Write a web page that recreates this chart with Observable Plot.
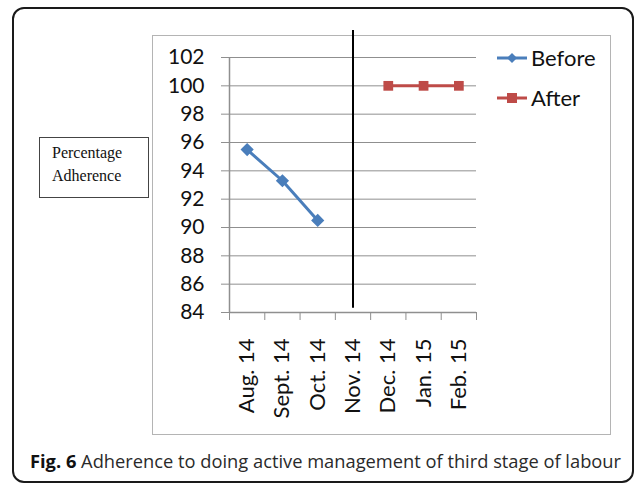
<!DOCTYPE html>
<html><head><meta charset="utf-8">
<script src="https://cdn.jsdelivr.net/npm/d3@7"></script>
<script src="https://cdn.jsdelivr.net/npm/@observablehq/plot@0.6"></script>
<style>
body{margin:0;background:#fff;}
#wrap{position:relative;width:636px;height:485px;overflow:hidden;font-family:Lato,sans-serif;}
#outer{position:absolute;left:12px;top:7px;width:622px;height:476px;border:2px solid #1a1a1a;border-radius:12px;box-sizing:border-box;}
#frame{position:absolute;left:152px;top:35px;width:459px;height:400px;border:1px solid #b4b4b4;box-sizing:border-box;}
#chart{position:absolute;left:0;top:0;}
#ylab{position:absolute;left:39px;top:137px;width:110px;height:61px;border:1.5px solid #444;box-sizing:border-box;font-family:"Liberation Serif",serif;font-size:16px;line-height:23px;padding:3px 0 0 12px;color:#111;}
.leg{position:absolute;left:496px;display:flex;align-items:center;font-family:Lato,sans-serif;font-size:22px;color:#111;}
.leg svg{margin-right:3px;}
#caption{position:absolute;left:30px;top:449px;font-family:"Open Sans",sans-serif;font-size:18.3px;line-height:24px;color:#2a2a2a;white-space:nowrap;}
#caption b{font-weight:700;color:#111;}
</style></head>
<body>
<div id="wrap">
  <div id="outer"></div>
  <div id="frame"></div>
  <div id="chart"></div>
  <div id="ylab">Percentage<br>Adherence</div>
  <div id="legend"></div>
  <div id="caption"><b>Fig. 6</b> Adherence to doing active management of third stage of labour</div>
</div>
<script>
const months = ["Aug. 14", "Sept. 14", "Oct. 14", "Nov. 14", "Dec. 14", "Jan. 15", "Feb. 15"];
const beforeMonths = ["Aug. 14", "Sept. 14", "Oct. 14"];
const beforeValues = [95.5, 93.3, 90.5];
const afterMonths = ["Dec. 14", "Jan. 15", "Feb. 15"];
const afterValues = [100, 100, 100];
const dividerMonth = "Nov. 14";
const yTicks = [84, 86, 88, 90, 92, 94, 96, 98, 100, 102];
const seriesNames = ["Before", "After"];
const seriesColors = ["#4A7EBB", "#BE4B48"];

const pos = m => months.indexOf(m) + 0.5;
const before = beforeMonths.map((m, i) => ({x: pos(m), y: beforeValues[i]}));
const after = afterMonths.map((m, i) => ({x: pos(m), y: afterValues[i]}));
const gray = "#8f8f8f";

const chart = Plot.plot({
  width: 636,
  height: 440,
  marginLeft: 229,
  marginRight: 160,
  marginTop: 57,
  marginBottom: 128,
  style: {fontFamily: "Lato, sans-serif", background: "transparent", color: "#111"},
  x: {domain: [0, months.length]},
  y: {domain: [yTicks[0], yTicks[yTicks.length - 1]]},
  marks: [
    Plot.gridY(yTicks, {stroke: gray, strokeOpacity: 1, strokeWidth: 1}),
    Plot.axisY(yTicks, {tickSize: 8, tickPadding: 17, stroke: gray, strokeOpacity: 1, fill: "#111", fontSize: 21, label: null}),
    Plot.ruleX([0], {stroke: gray, strokeWidth: 1.5}),
    Plot.ruleY([yTicks[0]], {stroke: gray, strokeWidth: 1.5}),
    Plot.axisX(d3.range(months.length + 1), {tickSize: 8, tickFormat: () => "", stroke: gray, strokeOpacity: 1, label: null}),
    Plot.axisX(months.map(pos), {tickSize: 0, tickPadding: 26, tickRotate: -90, tickFormat: d => months[Math.round(d - 0.5)], fill: "#111", fontSize: 22, label: null}),
    Plot.ruleX([dividerMonth], {x: pos, y1: 84.3, y2: 103.9, stroke: "#000", strokeWidth: 2}),
    Plot.line(before, {x: "x", y: "y", stroke: seriesColors[0], strokeWidth: 3}),
    Plot.dot(before, {x: "x", y: "y", symbol: "diamond2", r: 5, fill: seriesColors[0], stroke: seriesColors[0]}),
    Plot.line(after, {x: "x", y: "y", stroke: seriesColors[1], strokeWidth: 3}),
    Plot.dot(after, {x: "x", y: "y", symbol: "square", r: 5.5, fill: seriesColors[1], stroke: "none"})
  ]
});
document.getElementById("chart").appendChild(chart);

// legend
const legend = document.getElementById("legend");
const tops = [44, 84];
seriesNames.forEach((name, i) => {
  const div = document.createElement("div");
  div.className = "leg";
  div.style.top = tops[i] + "px";
  const marker = i === 0
    ? `<path d="M16,2 L21,7 L16,12 L11,7 Z" fill="${seriesColors[i]}"/>`
    : `<rect x="11" y="2" width="10" height="10" fill="${seriesColors[i]}"/>`;
  div.innerHTML = `<svg width="32" height="14"><line x1="1" x2="31" y1="7" y2="7" stroke="${seriesColors[i]}" stroke-width="3"/>${marker}</svg><span>${name}</span>`;
  legend.appendChild(div);
});
</script>
</body></html>
